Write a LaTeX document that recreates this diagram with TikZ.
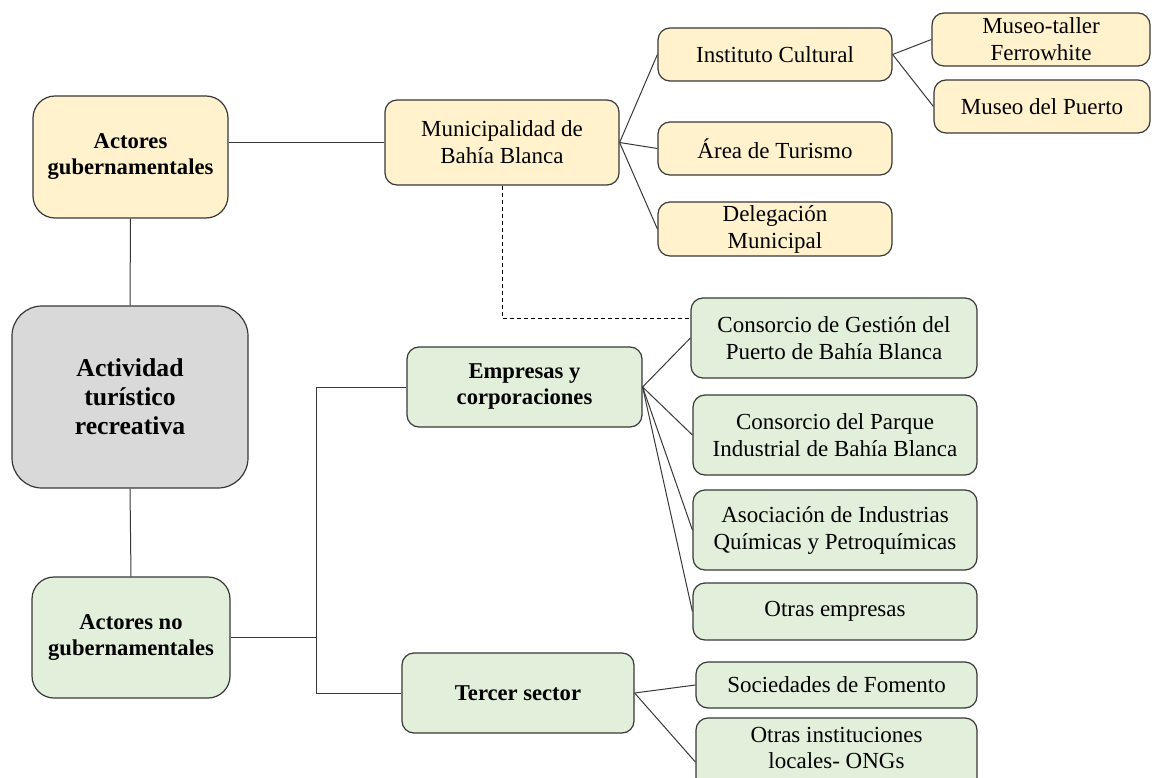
\documentclass[tikz,border=0pt]{standalone}
\usepackage{fontspec}
\setmainfont{Liberation Serif}
\definecolor{yfill}{HTML}{FFF2CC}
\definecolor{gfill}{HTML}{E2EFDA}
\definecolor{cfill}{HTML}{D9D9D9}
\definecolor{edge}{HTML}{383838}
\begin{document}
\begin{tikzpicture}[x=1pt,y=-1pt,
  box/.style={draw=edge, line width=1.2pt, rounded corners=12pt, inner sep=0pt, align=center,
    font=\fontsize{23}{27}\selectfont},
  ybox/.style={box, fill=yfill},
  gbox/.style={box, fill=gfill},
  boldtext/.style={font=\fontsize{22.6}{26}\selectfont\bfseries},
  bigbox/.style={box, rounded corners=22pt, boldtext},
  link/.style={draw=edge, line width=1pt},
  dlink/.style={draw=black, line width=1pt, dash pattern=on 4pt off 3pt}]
\useasboundingbox (0,0) rectangle (1159,778);
% left column
\node[bigbox, fill=yfill, minimum width=195, minimum height=122] (ag) at (130.5,157) {Actores\\gubernamentales};
\node[box, fill=cfill, rounded corners=30pt, minimum width=236, minimum height=182,
  font=\fontsize{25.7}{29}\selectfont\bfseries] (act) at (130,397) {Actividad\\turístico\\recreativa};
\node[bigbox, fill=gfill, minimum width=198, minimum height=121] (ang) at (131,637.5) {Actores no\\gubernamentales};
% governmental branch
\node[ybox, minimum width=234, minimum height=85] (muni) at (502,142.5) {Municipalidad de\\Bahía Blanca};
\node[ybox, minimum width=234, minimum height=53] (inst) at (775,54.5) {Instituto Cultural};
\node[ybox, minimum width=234, minimum height=53] (tur) at (775,148.5) {Área de Turismo};
\node[ybox, minimum width=234, minimum height=54] (del) at (775,229) {Delegación\\Municipal};
\node[ybox, minimum width=218, minimum height=53] (mft) at (1041,39.5) {Museo-taller\\Ferrowhite};
\node[ybox, minimum width=216, minimum height=53] (mpu) at (1042,106.5) {Museo del Puerto};
% non-governmental branch
\node[gbox, boldtext, minimum width=235, minimum height=80] (emp) at (524.5,387) {Empresas y\\corporaciones};
\node[gbox, boldtext, minimum width=232, minimum height=80] (ter) at (518,693) {Tercer sector};
\node[gbox, minimum width=286, minimum height=80] (cg) at (834,338) {Consorcio de Gestión del\\Puerto de Bahía Blanca};
\node[gbox, minimum width=284, minimum height=80] (cp) at (835,435) {Consorcio del Parque\\Industrial de Bahía Blanca};
\node[gbox, minimum width=284, minimum height=80] (aiq) at (835,530) {Asociación de Industrias\\Químicas y Petroquímicas};
\node[gbox, minimum width=284, minimum height=57] (oe) at (835,611.5) {Otras empresas};
\node[gbox, minimum width=281, minimum height=46] (sf) at (836.5,685) {Sociedades de Fomento};
\node[gbox, minimum width=281, minimum height=74] (oi) at (836.5,755) {};
\node[font=\fontsize{23}{26}\selectfont, align=center, inner sep=0pt] (oit) at (836.5,748) {Otras instituciones\\locales- ONGs};
% connectors
\draw[link] (ag.south) -- (act.north);
\draw[link] (act.south) -- (ang.north);
\draw[link] (muni.west) -- (muni.west -| ag.east);
\draw[link] (muni.east) -- (inst.west);
\draw[link] (muni.east) -- (tur.west);
\draw[link] (muni.east) -- (del.west);
\draw[link] (inst.east) -- (mft.west);
\draw[link] (inst.east) -- (mpu.west);
\coordinate (brx) at (316,0);
\draw[link] (emp.west) -- (emp.west -| brx) -- (ter.west -| brx) -- (ter.west);
\draw[link] (ang.east) -- (ang.east -| brx);
\draw[link] (emp.east) -- (cg.west);
\draw[link] (emp.east) -- (cp.west);
\draw[link] (emp.east) -- (aiq.west);
\draw[link] (emp.east) -- (oe.west);
\draw[link] (ter.east) -- (sf.west);
\draw[link] (ter.east) -- ([yshift=-7pt]oi.west);
\coordinate (dj) at (502,318);
\draw[dlink] (muni.south) -- (dj) -- (dj -| cg.west);
\end{tikzpicture}
\end{document}
